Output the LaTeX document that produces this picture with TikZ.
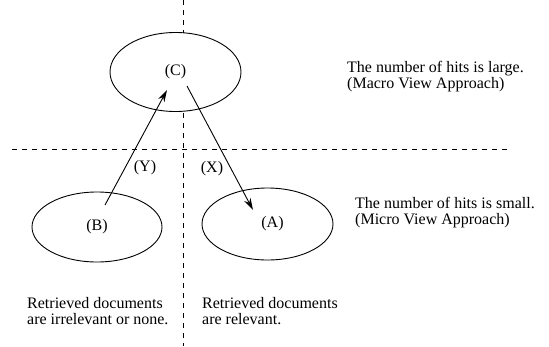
\documentclass[tikz,border=0pt]{standalone}
\usepackage{fontspec}
\setmainfont{Liberation Serif}
\usetikzlibrary{shapes.geometric,arrows.meta}
\tikzset{
  view/.style={draw,ellipse,line width=0.9pt,inner sep=0pt},
  divider/.style={line width=0.9pt,dash pattern=on 5pt off 5pt},
  flow/.style={line width=0.9pt,-{Stealth[length=12pt,width=7pt]}},
  note/.style={align=left,anchor=north west,inner sep=0pt}
}
\begin{document}
\begin{tikzpicture}[x=1pt,y=-1pt,font=\fontsize{16}{16}\selectfont]
  \useasboundingbox (0,0) rectangle (549,346);
  \node[view,minimum width=131,minimum height=79] (C) at (175.5,72) {(C)};
  \node[view,minimum width=130,minimum height=70] (B) at (97,227) {(B)};
  \node[view,minimum width=131,minimum height=72] (A) at (267.5,224) {\raisebox{5pt}{\hspace{10pt}(A)}};
  % dashed dividers
  \draw[divider] (183,0) -- (183,33);
  \draw[divider] (183,113) -- (183,346);
  \draw[divider] (12,149) -- (508,149);
  % arrows between the views
  \coordinate (ytail) at (105,205);
  \coordinate (yhead) at (167,90);
  \coordinate (xtail) at (187,86);
  \coordinate (xhead) at (253,210);
  \draw[flow] (ytail) -- (yhead);
  \draw[flow] (xtail) -- (xhead);
  \node (ylab) at (145,168) {(Y)};
  \node (xlab) at (212,169) {(X)};
  % notes
  \node[note] (macro) at (347,61) {The number of hits is large.\\(Macro View Approach)};
  \node[note] (micro) at (355,197) {The number of hits is small.\\(Micro View Approach)};
  \node[note] (none) at (27,297) {Retrieved documents\\are irrelevant or none.};
  \node[note] (rel) at (202,297) {Retrieved documents\\are relevant.};
\end{tikzpicture}
\end{document}
